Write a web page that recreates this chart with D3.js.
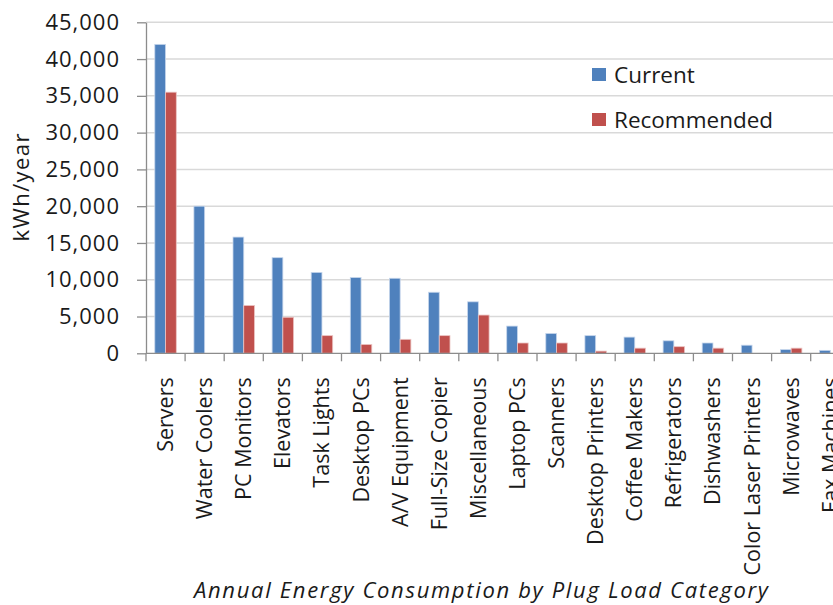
<!DOCTYPE html>
<html>
<head>
<meta charset="utf-8">
<script src="https://cdn.jsdelivr.net/npm/d3@7"></script>
<style>
  html, body { margin: 0; padding: 0; background: #fff; overflow: hidden; }
  svg { display: block; font-family: "Open Sans", "Noto Sans", sans-serif; }
</style>
</head>
<body>
<svg id="chart" width="833" height="605"></svg>
<script>
// Plug load categories and annual consumption (kWh/year)
const categories = ["Servers", "Water Coolers", "PC Monitors", "Elevators", "Task Lights",
  "Desktop PCs", "A/V Equipment", "Full-Size Copier", "Miscellaneous", "Laptop PCs",
  "Scanners", "Desktop Printers", "Coffee Makers", "Refrigerators", "Dishwashers",
  "Color Laser Printers", "Microwaves", "Fax Machines"];
const seriesNames = ["Current", "Recommended"];
const currentValues = [42000, 20000, 15800, 13000, 11000, 10300, 10200, 8300, 7000, 3700,
  2700, 2400, 2200, 1700, 1400, 1100, 500, 400];
const recommendedValues = [35500, 0, 6500, 4900, 2400, 1200, 1900, 2400, 5200, 1400,
  1400, 300, 700, 900, 700, 0, 700, 0];
const yTicks = [0, 5000, 10000, 15000, 20000, 25000, 30000, 35000, 40000, 45000];
const seriesColors = ["#4F81BD", "#C0504D"];
const seriesStroke = ["#C6D6EC", "#EBC4C3"];

const svg = d3.select("#chart");
const left = 146, zeroY = 353.3, topY = 22.3, band = 39.1;
const right = left + band * categories.length;

const x0 = d3.scaleBand().domain(categories).range([left, right]).paddingInner(0).paddingOuter(0);
const x1 = d3.scaleBand().domain(seriesNames).range([0, x0.bandwidth()]).paddingInner(0).paddingOuter(0.82);
const y = d3.scaleLinear().domain([0, 45000]).range([zeroY, topY]);
const fmt = d3.format(",");

// horizontal gridlines
svg.append("g")
  .selectAll("line")
  .data(yTicks.filter(d => d > 0))
  .join("line")
  .attr("x1", left).attr("x2", right)
  .attr("y1", d => y(d)).attr("y2", d => y(d))
  .attr("stroke", "#D9D9D9").attr("stroke-width", 1.5);

// bars
const rows = categories.map((c, i) => ({ c, vals: [currentValues[i], recommendedValues[i]] }));
const groups = svg.append("g").selectAll("g")
  .data(rows).join("g")
  .attr("transform", d => `translate(${x0(d.c)},0)`);
groups.selectAll("rect")
  .data(d => d.vals.map((v, k) => ({ v, k })))
  .join("rect")
  .filter(d => d.v > 0)
  .attr("x", d => x1(seriesNames[d.k]))
  .attr("width", x1.bandwidth())
  .attr("y", d => y(d.v))
  .attr("height", d => zeroY - y(d.v))
  .attr("fill", d => seriesColors[d.k])
  .attr("stroke", d => seriesStroke[d.k])
  .attr("stroke-width", 0.8);

// y axis
const yAxis = svg.append("g")
  .attr("transform", `translate(${left},0)`)
  .call(d3.axisLeft(y).tickValues(yTicks).tickFormat(fmt).tickSize(9).tickPadding(17).tickSizeOuter(0));
yAxis.select(".domain").attr("stroke", "#8C8C8C").attr("stroke-width", 1.3);
yAxis.selectAll(".tick line").attr("stroke", "#8C8C8C").attr("stroke-width", 1.3);
yAxis.selectAll(".tick text")
  .attr("font-size", 22).attr("fill", "#1a1a1a")
  .attr("font-family", "'Open Sans', sans-serif")
  .style("letter-spacing", "1px");

// x axis with category separators
const xAxisG = svg.append("g").attr("transform", `translate(0,${zeroY})`);
xAxisG.append("line").attr("x1", left).attr("x2", right)
  .attr("stroke", "#8C8C8C").attr("stroke-width", 1.3);
const edges = d3.range(categories.length + 1).map(i => left + i * x0.step());
xAxisG.selectAll("line.sep").data(edges).join("line").attr("class", "sep")
  .attr("x1", d => d).attr("x2", d => d).attr("y1", 0).attr("y2", 8)
  .attr("stroke", "#8C8C8C").attr("stroke-width", 1.3);
xAxisG.selectAll("text").data(categories).join("text")
  .attr("transform", d => `translate(${x0(d) + x0.bandwidth() / 2},24) rotate(-90)`)
  .attr("text-anchor", "end")
  .attr("dy", "0.35em")
  .attr("font-size", 21.5)
  .attr("fill", "#1a1a1a")
  .text(d => d);

// y axis title
svg.append("text")
  .attr("transform", "translate(29,187.5) rotate(-90)")
  .attr("text-anchor", "middle")
  .attr("font-size", 22)
  .attr("fill", "#1a1a1a")
  .attr("textLength", 108).attr("lengthAdjust", "spacing")
  .text("kWh/year");

// x axis title
svg.append("text")
  .attr("x", 194).attr("y", 598)
  .attr("font-size", 22)
  .attr("font-style", "italic")
  .attr("fill", "#1a1a1a")
  .attr("textLength", 574).attr("lengthAdjust", "spacing")
  .text("Annual Energy Consumption by Plug Load Category");

// legend
const legend = svg.append("g").selectAll("g")
  .data(seriesNames).join("g")
  .attr("transform", (d, i) => `translate(592,${75 + i * 45})`);
legend.append("rect")
  .attr("x", 0).attr("y", -7).attr("width", 14).attr("height", 13)
  .attr("fill", (d, i) => seriesColors[i]);
legend.append("text")
  .attr("x", 22).attr("y", 0).attr("dy", "0.35em")
  .attr("font-size", 22.5)
  .attr("fill", "#1a1a1a")
  .text(d => d);
</script>
</body>
</html>
